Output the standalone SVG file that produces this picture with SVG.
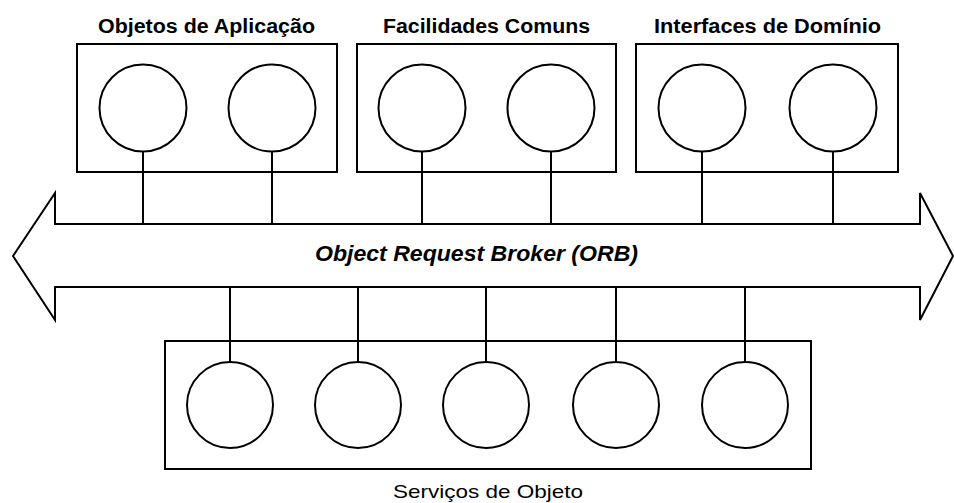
<svg xmlns="http://www.w3.org/2000/svg" width="954" height="503" viewBox="0 0 954 503">
  <style>
    .shape { fill: none; stroke: #000; stroke-width: 2; }
    .lbl { font-family: "Liberation Sans", Arial, sans-serif; font-size: 20px; font-weight: bold; fill: #000; }
    .orb { font-family: "Liberation Sans", Arial, sans-serif; font-size: 22px; font-weight: bold; font-style: italic; fill: #000; }
    .svc { font-family: "Liberation Sans", Arial, sans-serif; font-size: 19px; fill: #000; }
  </style>
  <rect width="954" height="503" fill="#fff"/>

  <g id="connectors">
    <line class="shape" x1="143" y1="151" x2="143" y2="224"/>
    <line class="shape" x1="272" y1="151" x2="272" y2="224"/>
    <line class="shape" x1="422" y1="151" x2="422" y2="224"/>
    <line class="shape" x1="551" y1="151" x2="551" y2="224"/>
    <line class="shape" x1="702" y1="151" x2="702" y2="224"/>
    <line class="shape" x1="833" y1="151" x2="833" y2="224"/>
    <line class="shape" x1="230" y1="287" x2="230" y2="362"/>
    <line class="shape" x1="358" y1="287" x2="358" y2="362"/>
    <line class="shape" x1="486" y1="287" x2="486" y2="362"/>
    <line class="shape" x1="616" y1="287" x2="616" y2="362"/>
    <line class="shape" x1="745" y1="287" x2="745" y2="362"/>
  </g>

  <g id="orb">
    <polygon class="shape" points="13,256 55,193 55,224 920,224 920,193 953,256 920,320 920,287 55,287 55,320"/>
    <text class="orb" x="315" y="261" textLength="323" lengthAdjust="spacingAndGlyphs">Object Request Broker (ORB)</text>
  </g>

  <g id="objetos-aplicacao">
    <rect class="shape" x="77" y="44" width="260" height="128"/>
    <circle class="shape" cx="143" cy="108" r="43.5"/>
    <circle class="shape" cx="272" cy="108" r="43.5"/>
    <text class="lbl" x="98" y="33" textLength="217" lengthAdjust="spacingAndGlyphs">Objetos de Aplicação</text>
  </g>

  <g id="facilidades-comuns">
    <rect class="shape" x="357" y="44" width="259" height="128"/>
    <circle class="shape" cx="422" cy="108" r="43.5"/>
    <circle class="shape" cx="551" cy="108" r="43.5"/>
    <text class="lbl" x="383" y="33" textLength="207" lengthAdjust="spacingAndGlyphs">Facilidades Comuns</text>
  </g>

  <g id="interfaces-dominio">
    <rect class="shape" x="636" y="44" width="262" height="128"/>
    <circle class="shape" cx="702" cy="108" r="43.5"/>
    <circle class="shape" cx="833" cy="108" r="43.5"/>
    <text class="lbl" x="654" y="33" textLength="227" lengthAdjust="spacingAndGlyphs">Interfaces de Domínio</text>
  </g>

  <g id="servicos-objeto">
    <rect class="shape" x="165" y="341" width="646" height="128"/>
    <circle class="shape" cx="230" cy="405" r="43"/>
    <circle class="shape" cx="358" cy="405" r="43"/>
    <circle class="shape" cx="486" cy="405" r="43"/>
    <circle class="shape" cx="616" cy="405" r="43"/>
    <circle class="shape" cx="745" cy="405" r="43"/>
    <text class="svc" x="393" y="498" textLength="190" lengthAdjust="spacingAndGlyphs">Serviços de Objeto</text>
  </g>
</svg>
